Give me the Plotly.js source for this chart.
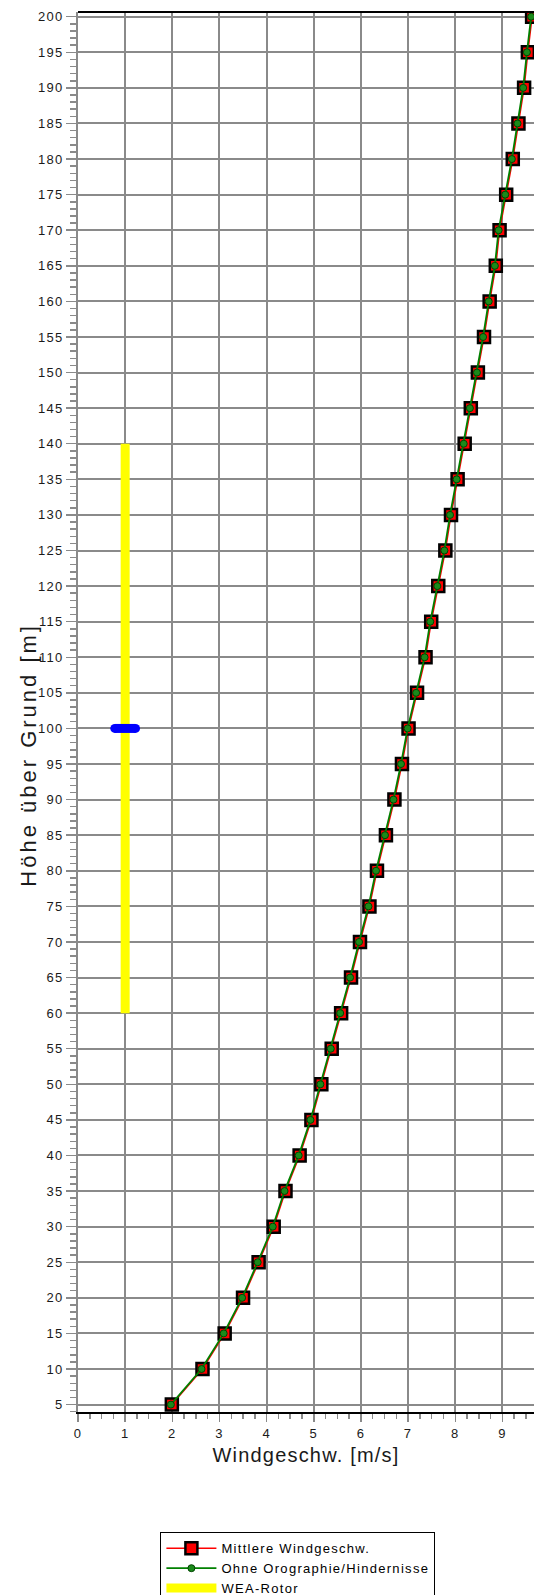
<!DOCTYPE html>
<html>
<head>
<meta charset="utf-8">
<script src="https://cdn.plot.ly/plotly-3.0.1.min.js"></script>
<style>
html,body{margin:0;padding:0;background:#fff;}
#chart{width:534px;height:1595px;}
.xtick text, .ytick text { letter-spacing: 1.2px; }
.legendtext { letter-spacing: 1.3px; }
.xtitle { letter-spacing: 1.2px; }
.annotation-text { letter-spacing: 3px; }
</style>
</head>
<body>
<div id="chart"></div>
<script>
// Heights above ground [m]
const heights = [5,10,15,20,25,30,35,40,45,50,55,60,65,70,75,80,85,90,95,100,
                 105,110,115,120,125,130,135,140,145,150,155,160,165,170,175,180,185,190,195,200];
// Mittlere Windgeschw. [m/s]
const meanSpeed = [1.99,2.64,3.11,3.50,3.83,4.15,4.40,4.70,4.95,5.16,5.38,5.58,5.79,5.98,6.18,6.34,6.53,6.71,6.87,7.01,
                   7.19,7.37,7.49,7.64,7.79,7.91,8.05,8.20,8.33,8.48,8.61,8.73,8.86,8.94,9.08,9.22,9.34,9.46,9.54,9.63];
// Ohne Orographie/Hindernisse [m/s]
const noOroSpeed = [1.97,2.62,3.09,3.48,3.81,4.13,4.38,4.68,4.93,5.14,5.36,5.56,5.77,5.96,6.16,6.32,6.51,6.69,6.85,6.99,
                    7.17,7.35,7.47,7.62,7.77,7.89,8.03,8.18,8.31,8.46,8.59,8.71,8.84,8.92,9.06,9.20,9.32,9.44,9.52,9.61];
// WEA-Rotor (hub x position, rotor bottom/top heights)
const rotorX = [1, 1];
const rotorY = [60, 140];
// Hub marker
const hubX = [0.78, 1.22];
const hubY = [100, 100];

const xTickVals = [0,1,2,3,4,5,6,7,8,9];
const xTickText = ['0','1','2','3','4','5','6','7','8','9'];
const yTickVals = heights;
const yTickText = heights.map(String);

const FONT = '"Liberation Sans", Arial, sans-serif';

const traces = [
  {x: rotorX, y: rotorY, mode: 'lines', name: 'WEA-Rotor',
   line: {color: '#ffff00', width: 9}, legendrank: 3, hoverinfo: 'skip'},
  {x: hubX, y: hubY, mode: 'lines+markers', showlegend: false,
   line: {color: '#0000ff', width: 9}, marker: {color: '#0000ff', size: 9, symbol: 'circle'}, hoverinfo: 'skip'},
  {x: meanSpeed, y: heights, mode: 'lines+markers', name: 'Mittlere Windgeschw.',
   line: {color: '#ff0000', width: 1.5},
   marker: {symbol: 'square', size: 12, color: '#ff0000', line: {color: '#000000', width: 2.5}},
   legendrank: 1},
  {x: noOroSpeed, y: heights, mode: 'lines+markers', name: 'Ohne Orographie/Hindernisse',
   line: {color: '#008000', width: 1.8},
   marker: {symbol: 'circle', size: 7, color: '#1a8a1a', line: {color: '#004400', width: 1}},
   legendrank: 2}
];

const plotL = 77.5, plotT = 12, plotB = 1411.7, W = 534, H = 1595;
const plotH = plotB - plotT, plotW = W - plotL;

const layout = {
  width: W, height: H,
  paper_bgcolor: '#ffffff', plot_bgcolor: '#ffffff',
  margin: {l: plotL, r: 0, t: plotT, b: H - plotB, autoexpand: false},
  font: {family: FONT, color: '#1a1a1a', size: 13},
  showlegend: true,
  xaxis: {
    range: [0, 9.67], tickmode: 'array', tickvals: xTickVals, ticktext: xTickText,
    showgrid: true, gridcolor: '#8a8a8a', gridwidth: 2, zeroline: false,
    showline: true, linecolor: '#000000', linewidth: 2,
    ticks: 'outside', ticklen: 8, tickwidth: 1.5, tickcolor: '#8a8a8a',
    minor: {dtick: 0.25, ticks: 'outside', ticklen: 5, tickwidth: 1.5, tickcolor: '#8a8a8a', showgrid: false},
    tickfont: {family: FONT, size: 13, color: '#1a1a1a'},
    title: {text: 'Windgeschw. [m/s]', font: {family: FONT, size: 20, color: '#1a1a1a'}, standoff: 8},
    automargin: false, fixedrange: true
  },
  yaxis: {
    range: [3.96, 200.66], tickmode: 'array', tickvals: yTickVals, ticktext: yTickText,
    showgrid: true, gridcolor: '#8a8a8a', gridwidth: 2, zeroline: false,
    showline: true, linecolor: '#8a8a8a', linewidth: 2,
    ticks: 'outside', ticklen: 10, tickwidth: 1.5, tickcolor: '#8a8a8a',
    minor: {dtick: 1, tick0: 0, ticks: 'outside', ticklen: 6, tickwidth: 1.5, tickcolor: '#8a8a8a', showgrid: false},
    tickfont: {family: FONT, size: 13, color: '#1a1a1a'},
    automargin: false, fixedrange: true
  },
  annotations: [
    {text: 'Höhe über Grund [m]', xref: 'paper', yref: 'paper',
     x: (28 - plotL) / plotW, y: (plotB - 755) / plotH, xanchor: 'center', yanchor: 'middle',
     textangle: -90, showarrow: false, font: {family: FONT, size: 22, color: '#1a1a1a'}}
  ],
  shapes: [
    {type: 'line', xref: 'paper', yref: 'paper', x0: 0, x1: 1, y0: 1, y1: 1,
     line: {color: '#000000', width: 2}}
  ],
  legend: {
    x: (160 - plotL) / plotW, y: (plotB - 1532) / plotH, xanchor: 'left', yanchor: 'top',
    bordercolor: '#000000', borderwidth: 1, bgcolor: '#ffffff', itemwidth: 50,
    font: {family: FONT, size: 13, color: '#000000'}, tracegroupgap: 0
  }
};

Plotly.newPlot('chart', traces, layout, {displayModeBar: false, staticPlot: true});
</script>
</body>
</html>
